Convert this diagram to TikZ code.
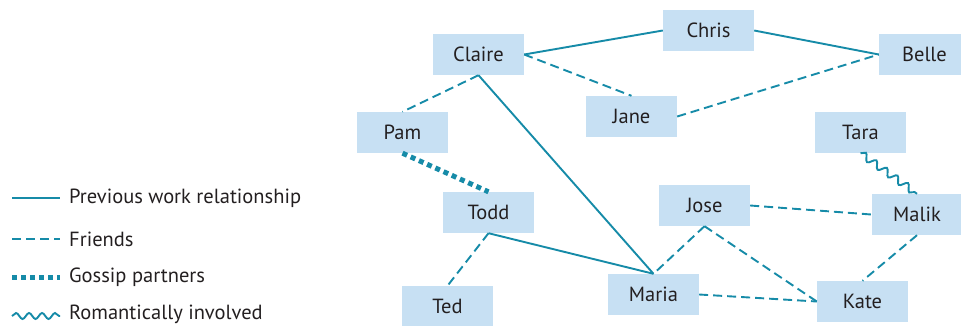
\documentclass[tikz,border=0pt]{standalone}
\usepackage{fontspec}
\setmainfont{PT Sans}
\usetikzlibrary{decorations.pathmorphing}
\definecolor{boxfill}{HTML}{C7E0F3}
\definecolor{linecol}{HTML}{168BA8}
\definecolor{textcol}{HTML}{231F20}
\begin{document}
\begin{tikzpicture}[x=1pt,y=-1pt,
  person/.style={fill=boxfill, minimum width=91pt, minimum height=41pt, inner sep=0pt, font=\fontsize{20.5}{24}\selectfont, text=textcol},
  legtext/.style={anchor=west, inner sep=0pt, font=\fontsize{20.5}{24}\selectfont, text=textcol},
  work/.style={draw=linecol, line width=1.9pt},
  friend/.style={draw=linecol, line width=1.9pt, dash pattern=on 9pt off 5pt},
  gossip/.style={draw=linecol, line width=5pt, dash pattern=on 5pt off 4pt},
  romance/.style={draw=linecol, line width=1.9pt, decorate, decoration={snake, amplitude=3.5pt, segment length=13pt}}]
\useasboundingbox (0,0) rectangle (961,325);
% nodes
\node[person] (claire) at (478.5,54.5) {Claire};
\node[person] (chris) at (708.5,30.5) {Chris};
\node[person] (belle) at (924.5,54.5) {Belle};
\node[person] (pam) at (402.5,132.5) {Pam};
\node[person] (jane) at (631.5,116.5) {Jane};
\node[person] (tara) at (860.5,132.5) {Tara};
\node[person] (todd) at (488.5,212.5) {Todd};
\node[person] (jose) at (704.5,205.5) {Jose};
\node[person] (malik) at (917,214.5) {Malik};
\node[person] (ted) at (447.5,306.5) {Ted};
\node[person] (maria) at (653.5,294.5) {Maria};
\node[person] (kate) at (862.5,301.5) {Kate};
% edges
\draw[work] (claire.east) -- (chris.west);
\draw[work] (chris.east) -- (belle.west);
\draw[work] (claire.south) -- (maria.north);
\draw[work] (todd.south) -- (maria.north);
\draw[friend] (claire.east) -- (jane.north);
\draw[friend] (jane.east) -- (belle.west);
\draw[friend] (claire.south) -- (pam.north);
\draw[friend] (todd.south) -- (ted.north);
\draw[friend] (jose.south) -- (maria.north);
\draw[friend] (jose.south) -- (kate.west);
\draw[friend] (maria.east) -- (kate.west);
\draw[friend] (jose.east) -- (malik.west);
\draw[friend] (malik.south) -- (kate.north);
\draw[gossip] (pam.south) -- (todd.north);
\draw[romance] (tara.south) -- (malik.north);
% legend
\coordinate (l1a) at (12,198); \coordinate (l1b) at (60,198);
\coordinate (l2a) at (12,239); \coordinate (l2b) at (60,239);
\coordinate (l3a) at (12,277); \coordinate (l3b) at (60,277);
\coordinate (l4a) at (12,316); \coordinate (l4b) at (60,316);
\draw[work] (l1a) -- (l1b);
\draw[friend] (l2a) -- (l2b);
\draw[gossip] (l3a) -- (l3b);
\draw[romance, decoration={snake, amplitude=3pt, segment length=13pt}] (l4a) -- (l4b);
\node[legtext] (t1) at (69,198) {Previous work relationship};
\node[legtext] (t2) at (69,239) {Friends};
\node[legtext] (t3) at (69,277) {Gossip partners};
\node[legtext] (t4) at (69,314) {Romantically involved};
\end{tikzpicture}
\end{document}
